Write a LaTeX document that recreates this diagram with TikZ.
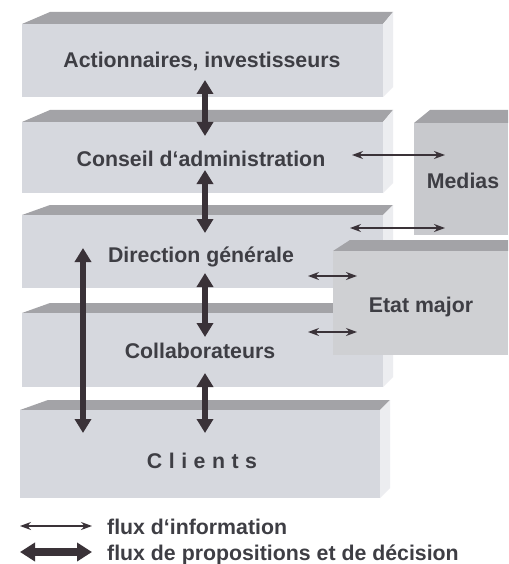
\documentclass[tikz,border=0pt]{standalone}
\usepackage{fontspec}
\setmainfont{Liberation Sans}
\usetikzlibrary{arrows.meta}
\definecolor{topgray}{RGB}{163,163,167}
\definecolor{frontgray}{RGB}{214,216,222}
\definecolor{sidegray}{RGB}{236,237,240}
\definecolor{medgray}{RGB}{200,201,205}
\definecolor{etatgray}{RGB}{207,208,211}
\definecolor{inkc}{RGB}{58,50,56}
\definecolor{textc}{RGB}{62,62,68}
\newcommand\mkslab[5]{%
  \fill[topgray] (#1,#4) -- (#1+28,#3) -- (#2+10,#3) -- (#2,#4) -- cycle;
  \fill[sidegray] (#2,#4) -- (#2+10,#3) -- (#2+10,#5-10) -- (#2,#5) -- cycle;
  \fill[frontgray] (#1,#4) rectangle (#2,#5);}
\begin{document}
\begin{tikzpicture}[x=1pt,y=-1pt,
  lbl/.style={font=\fontsize{21.3}{25}\selectfont\bfseries, text=textc, inner sep=0pt, anchor=base},
  legtext/.style={lbl, anchor=base west},
  decision/.style={line width=6.5pt, draw=inkc, {Triangle[length=14pt,width=16pt]}-{Triangle[length=14pt,width=16pt]}},
  info/.style={line width=1.2pt, draw=inkc, {Stealth[length=11pt,width=8pt]}-{Stealth[length=11pt,width=8pt]}}]
\useasboundingbox[fill=white] (0,0) rectangle (508,564);
% slabs
\mkslab{22}{383}{12}{24}{97}
\mkslab{22}{383}{110}{122}{193}
\mkslab{22}{383}{205}{215}{288}
\mkslab{22}{383}{303}{313}{387}
\mkslab{20}{380}{400}{410}{498}
% Medias box
\fill[topgray] (414,123) -- (430,110) -- (508,110) -- (508,123) -- cycle;
\fill[medgray] (414,123) rectangle (508,235);
% Etat major box
\fill[topgray] (333,251) -- (350,240) -- (508,240) -- (508,251) -- cycle;
\fill[etatgray] (333,251) rectangle (508,355);
% labels
\node[lbl] (act) at (202,68) {Actionnaires, investisseurs};
\node[lbl] (con) at (201,167) {Conseil d‘administration};
\node[lbl] (dir) at (201,262) {Direction générale};
\node[lbl] (col) at (200,358) {Collaborateurs};
\node[lbl] (cli) at (202,468) {C\hspace{6.5pt}l\hspace{6.5pt}i\hspace{6.5pt}e\hspace{6.5pt}n\hspace{6.5pt}t\hspace{6.5pt}s};
\node[lbl] (med) at (463,188) {Medias};
\node[lbl] (etat) at (421,312) {Etat major};
% arrow end points
\coordinate (d1a) at (205,80);  \coordinate (d1b) at (205,136);
\coordinate (d2a) at (205,170); \coordinate (d2b) at (205,233);
\coordinate (d3a) at (205,273); \coordinate (d3b) at (205,337);
\coordinate (d4a) at (205,373); \coordinate (d4b) at (205,433);
\coordinate (dla) at (83,248);  \coordinate (dlb) at (83,433);
\coordinate (i1a) at (352,155); \coordinate (i1b) at (445,155);
\coordinate (i2a) at (350,228); \coordinate (i2b) at (445,228);
\coordinate (i3a) at (308,276); \coordinate (i3b) at (357,276);
\coordinate (i4a) at (308,332); \coordinate (i4b) at (357,332);
% decision flows
\draw[decision] (d1a) -- (d1b);
\draw[decision] (d2a) -- (d2b);
\draw[decision] (d3a) -- (d3b);
\draw[decision] (d4a) -- (d4b);
\draw[decision] (dla) -- (dlb);
% information flows
\draw[info] (i1a) -- (i1b);
\draw[info] (i2a) -- (i2b);
\draw[info] (i3a) -- (i3b);
\draw[info] (i4a) -- (i4b);
% legend
\coordinate (l1a) at (20,526); \coordinate (l1b) at (92,526);
\coordinate (l2a) at (20,552); \coordinate (l2b) at (92,552);
\draw[info] (l1a) -- (l1b);
\draw[decision, line width=7.5pt, {Triangle[length=15pt,width=18pt]}-{Triangle[length=15pt,width=18pt]}] (l2a) -- (l2b);
\node[legtext] (leg1) at (107,534) {flux d‘information};
\node[legtext] (leg2) at (107,560) {flux de propositions et de décision};
\end{tikzpicture}
\end{document}
